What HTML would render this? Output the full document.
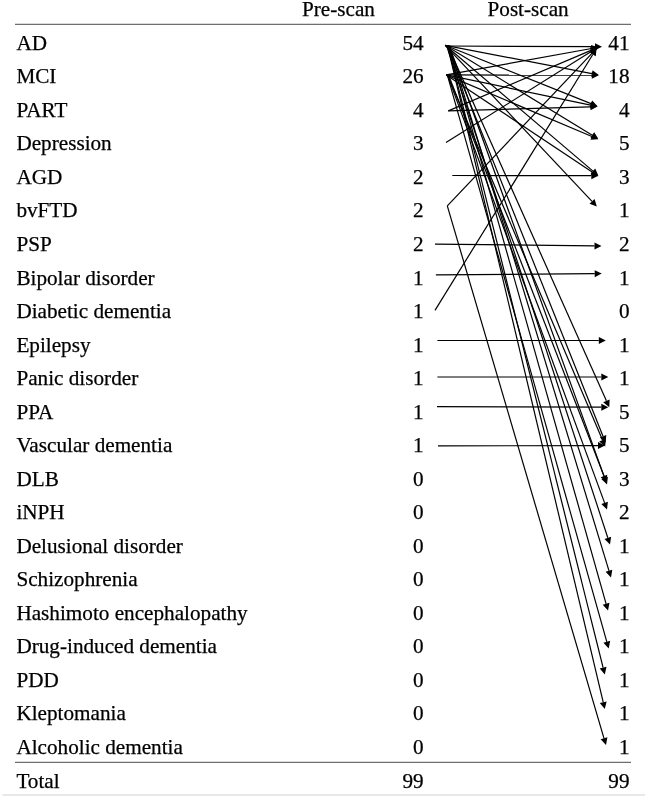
<!DOCTYPE html>
<html><head><meta charset="utf-8"><title>Table</title>
<style>html,body{margin:0;padding:0;background:#fff}svg{display:block}text{font-family:"Liberation Serif","Times New Roman",serif;font-size:21.2px;fill:#000;stroke:#000;stroke-width:0.25px}</style></head><body>
<svg width="645" height="798" viewBox="0 0 645 798">
<rect width="645" height="798" fill="#fff"/>
<line x1="15" y1="24.4" x2="631" y2="24.4" stroke="#6e6e6e" stroke-width="1.2"/>
<line x1="15" y1="762.3" x2="631" y2="762.3" stroke="#6e6e6e" stroke-width="1.2"/>
<line x1="2.5" y1="795.1" x2="645" y2="795.1" stroke="#e0e0e0" stroke-width="1.5"/>
<text x="302" y="15.5">Pre-scan</text>
<text x="487.5" y="15.5">Post-scan</text>
<text x="16.4" y="49.8">AD</text>
<text x="423.6" y="49.8" text-anchor="end">54</text>
<text x="629.5" y="49.8" text-anchor="end">41</text>
<text x="16.4" y="83.3">MCI</text>
<text x="423.6" y="83.3" text-anchor="end">26</text>
<text x="629.5" y="83.3" text-anchor="end">18</text>
<text x="16.4" y="116.9">PART</text>
<text x="423.6" y="116.9" text-anchor="end">4</text>
<text x="629.5" y="116.9" text-anchor="end">4</text>
<text x="16.4" y="150.4">Depression</text>
<text x="423.6" y="150.4" text-anchor="end">3</text>
<text x="629.5" y="150.4" text-anchor="end">5</text>
<text x="16.4" y="183.9">AGD</text>
<text x="423.6" y="183.9" text-anchor="end">2</text>
<text x="629.5" y="183.9" text-anchor="end">3</text>
<text x="16.4" y="217.4">bvFTD</text>
<text x="423.6" y="217.4" text-anchor="end">2</text>
<text x="629.5" y="217.4" text-anchor="end">1</text>
<text x="16.4" y="251.0">PSP</text>
<text x="423.6" y="251.0" text-anchor="end">2</text>
<text x="629.5" y="251.0" text-anchor="end">2</text>
<text x="16.4" y="284.5">Bipolar disorder</text>
<text x="423.6" y="284.5" text-anchor="end">1</text>
<text x="629.5" y="284.5" text-anchor="end">1</text>
<text x="16.4" y="318.0">Diabetic dementia</text>
<text x="423.6" y="318.0" text-anchor="end">1</text>
<text x="629.5" y="318.0" text-anchor="end">0</text>
<text x="16.4" y="351.6">Epilepsy</text>
<text x="423.6" y="351.6" text-anchor="end">1</text>
<text x="629.5" y="351.6" text-anchor="end">1</text>
<text x="16.4" y="385.1">Panic disorder</text>
<text x="423.6" y="385.1" text-anchor="end">1</text>
<text x="629.5" y="385.1" text-anchor="end">1</text>
<text x="16.4" y="418.6">PPA</text>
<text x="423.6" y="418.6" text-anchor="end">1</text>
<text x="629.5" y="418.6" text-anchor="end">5</text>
<text x="16.4" y="452.2">Vascular dementia</text>
<text x="423.6" y="452.2" text-anchor="end">1</text>
<text x="629.5" y="452.2" text-anchor="end">5</text>
<text x="16.4" y="485.7">DLB</text>
<text x="423.6" y="485.7" text-anchor="end">0</text>
<text x="629.5" y="485.7" text-anchor="end">3</text>
<text x="16.4" y="519.2">iNPH</text>
<text x="423.6" y="519.2" text-anchor="end">0</text>
<text x="629.5" y="519.2" text-anchor="end">2</text>
<text x="16.4" y="552.8">Delusional disorder</text>
<text x="423.6" y="552.8" text-anchor="end">0</text>
<text x="629.5" y="552.8" text-anchor="end">1</text>
<text x="16.4" y="586.3">Schizophrenia</text>
<text x="423.6" y="586.3" text-anchor="end">0</text>
<text x="629.5" y="586.3" text-anchor="end">1</text>
<text x="16.4" y="619.8">Hashimoto encephalopathy</text>
<text x="423.6" y="619.8" text-anchor="end">0</text>
<text x="629.5" y="619.8" text-anchor="end">1</text>
<text x="16.4" y="653.3">Drug-induced dementia</text>
<text x="423.6" y="653.3" text-anchor="end">0</text>
<text x="629.5" y="653.3" text-anchor="end">1</text>
<text x="16.4" y="686.9">PDD</text>
<text x="423.6" y="686.9" text-anchor="end">0</text>
<text x="629.5" y="686.9" text-anchor="end">1</text>
<text x="16.4" y="720.4">Kleptomania</text>
<text x="423.6" y="720.4" text-anchor="end">0</text>
<text x="629.5" y="720.4" text-anchor="end">1</text>
<text x="16.4" y="753.9">Alcoholic dementia</text>
<text x="423.6" y="753.9" text-anchor="end">0</text>
<text x="629.5" y="753.9" text-anchor="end">1</text>
<text x="16.4" y="787.5">Total</text>
<text x="423.6" y="787.5" text-anchor="end">99</text>
<text x="629.5" y="787.5" text-anchor="end">99</text>
<g stroke="#000" stroke-width="1.2" fill="#000" stroke-linecap="butt">
<line x1="445.2" y1="46.0" x2="595.0" y2="46.7"/>
<polygon stroke="none" points="602.0,46.7 595.0,50.2 595.0,43.2"/>
<line x1="445.2" y1="45.3" x2="591.9" y2="73.7"/>
<polygon stroke="none" points="598.8,75.0 591.3,77.1 592.6,70.2"/>
<line x1="445.2" y1="45.3" x2="591.0" y2="103.6"/>
<polygon stroke="none" points="597.5,106.2 589.7,106.9 592.3,100.4"/>
<line x1="445.2" y1="45.3" x2="592.3" y2="135.2"/>
<polygon stroke="none" points="598.3,138.8 590.5,138.1 594.2,132.2"/>
<line x1="445.2" y1="45.3" x2="593.0" y2="171.1"/>
<polygon stroke="none" points="598.3,175.6 590.7,173.7 595.2,168.4"/>
<line x1="445.2" y1="45.3" x2="592.0" y2="201.4"/>
<polygon stroke="none" points="596.8,206.5 589.5,203.8 594.6,199.0"/>
<line x1="447.6" y1="45.3" x2="606.4" y2="400.8"/>
<polygon stroke="none" points="609.3,407.2 603.2,402.2 609.6,399.4"/>
<line x1="446.9" y1="45.3" x2="603.0" y2="436.3"/>
<polygon stroke="none" points="605.6,442.8 599.8,437.6 606.3,435.0"/>
<line x1="449.0" y1="45.3" x2="604.6" y2="477.9"/>
<polygon stroke="none" points="607.0,484.5 601.3,479.1 607.9,476.7"/>
<line x1="446.5" y1="45.3" x2="607.8" y2="537.8"/>
<polygon stroke="none" points="610.0,544.5 604.5,538.9 611.1,536.8"/>
<line x1="449.0" y1="45.3" x2="609.0" y2="570.8"/>
<polygon stroke="none" points="611.0,577.5 605.6,571.8 612.3,569.8"/>
<line x1="448.4" y1="45.3" x2="606.1" y2="603.8"/>
<polygon stroke="none" points="608.0,610.5 602.7,604.7 609.5,602.8"/>
<line x1="447.8" y1="45.3" x2="603.1" y2="667.6"/>
<polygon stroke="none" points="604.8,674.4 599.7,668.5 606.5,666.8"/>
<line x1="447.4" y1="45.3" x2="603.2" y2="702.2"/>
<polygon stroke="none" points="604.8,709.0 599.8,703.0 606.6,701.4"/>
<line x1="446.3" y1="74.9" x2="591.6" y2="48.5"/>
<polygon stroke="none" points="598.5,47.2 592.2,51.9 591.0,45.0"/>
<line x1="446.3" y1="74.9" x2="591.8" y2="75.2"/>
<polygon stroke="none" points="598.8,75.2 591.8,78.7 591.8,71.7"/>
<line x1="446.3" y1="74.9" x2="590.6" y2="105.1"/>
<polygon stroke="none" points="597.5,106.5 589.9,108.5 591.4,101.6"/>
<line x1="446.3" y1="74.9" x2="591.9" y2="136.5"/>
<polygon stroke="none" points="598.3,139.2 590.5,139.7 593.2,133.2"/>
<line x1="446.3" y1="74.9" x2="592.5" y2="172.3"/>
<polygon stroke="none" points="598.3,176.2 590.5,175.2 594.4,169.4"/>
<line x1="447.5" y1="74.9" x2="602.5" y2="440.1"/>
<polygon stroke="none" points="605.2,446.5 599.2,441.4 605.7,438.7"/>
<line x1="448.5" y1="74.9" x2="604.0" y2="476.0"/>
<polygon stroke="none" points="606.5,482.5 600.7,477.2 607.2,474.7"/>
<line x1="447.4" y1="74.9" x2="604.6" y2="502.9"/>
<polygon stroke="none" points="607.0,509.5 601.3,504.1 607.9,501.7"/>
<line x1="447.3" y1="74.9" x2="606.8" y2="641.8"/>
<polygon stroke="none" points="608.7,648.5 603.4,642.7 610.2,640.8"/>
<line x1="448.3" y1="110.9" x2="591.6" y2="50.1"/>
<polygon stroke="none" points="598.0,47.4 592.9,53.4 590.2,46.9"/>
<line x1="448.3" y1="110.9" x2="590.5" y2="106.8"/>
<polygon stroke="none" points="597.5,106.6 590.6,110.3 590.4,103.3"/>
<line x1="446.0" y1="142.5" x2="591.6" y2="51.3"/>
<polygon stroke="none" points="597.5,47.6 593.4,54.3 589.7,48.3"/>
<line x1="452.3" y1="175.5" x2="591.3" y2="175.7"/>
<polygon stroke="none" points="598.3,175.7 591.3,179.2 591.3,172.2"/>
<line x1="447.3" y1="205.9" x2="592.2" y2="53.1"/>
<polygon stroke="none" points="597.0,48.0 594.7,55.5 589.6,50.7"/>
<line x1="447.3" y1="205.9" x2="604.0" y2="738.3"/>
<polygon stroke="none" points="606.0,745.0 600.7,739.3 607.4,737.3"/>
<line x1="435.0" y1="244.1" x2="594.5" y2="245.9"/>
<polygon stroke="none" points="601.5,246.0 594.5,249.4 594.5,242.4"/>
<line x1="435.9" y1="274.8" x2="594.7" y2="273.7"/>
<polygon stroke="none" points="601.7,273.6 594.7,277.2 594.7,270.2"/>
<line x1="435.0" y1="310.4" x2="592.8" y2="54.5"/>
<polygon stroke="none" points="596.5,48.5 595.8,56.3 589.8,52.6"/>
<line x1="437.4" y1="340.5" x2="598.8" y2="340.5"/>
<polygon stroke="none" points="605.8,340.5 598.8,344.0 598.8,337.0"/>
<line x1="437.4" y1="377.0" x2="601.3" y2="377.0"/>
<polygon stroke="none" points="608.3,377.0 601.3,380.5 601.3,373.5"/>
<line x1="437.0" y1="406.6" x2="601.3" y2="407.2"/>
<polygon stroke="none" points="608.3,407.2 601.3,410.7 601.3,403.7"/>
<line x1="438.0" y1="445.9" x2="598.0" y2="445.6"/>
<polygon stroke="none" points="605.0,445.6 598.0,449.1 598.0,442.1"/>
</g></svg></body></html>
